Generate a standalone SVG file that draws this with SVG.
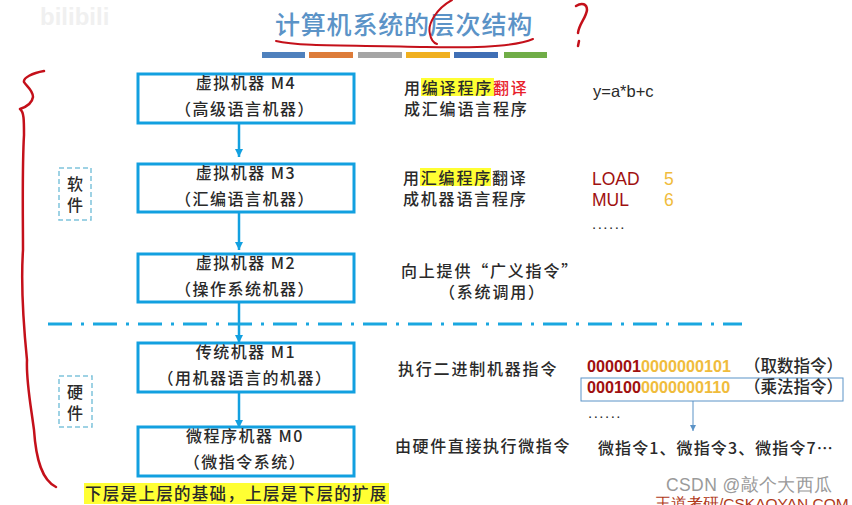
<svg xmlns="http://www.w3.org/2000/svg" width="852" height="505" viewBox="0 0 852 505">
<defs>
<marker id="ah" markerUnits="userSpaceOnUse" markerWidth="9" markerHeight="8" refX="8" refY="4" orient="auto"><path d="M0 0L8 4L0 8Z" fill="#12a0e0"/></marker>
<marker id="ah2" markerUnits="userSpaceOnUse" markerWidth="7" markerHeight="6" refX="6" refY="3" orient="auto"><path d="M0 0L6 3L0 6Z" fill="#5b93c7"/></marker>
</defs>
<style>
text{font-family:"Noto Sans CJK SC","Liberation Sans",sans-serif;fill:#2a2a2a}
.box{fill:#fff;stroke:#12a0e0;stroke-width:3}
.t{font-size:16px;text-anchor:middle;letter-spacing:1.5px;font-weight:500}
.s{font-size:16px;letter-spacing:1.8px;font-weight:500}
.k{font-size:16px;text-anchor:middle;font-weight:500}
.lat{font-family:"Liberation Sans",Arial,sans-serif}
.conn{fill:none;stroke:#12a0e0;stroke-width:2.5;marker-end:url(#ah)}
.dash{fill:none;stroke:#7fc4dc;stroke-width:1.5;stroke-dasharray:5 3}
.ink{fill:none;stroke:#c4101a;stroke-linecap:round;stroke-linejoin:round}
.bar{stroke:none}
.hl{fill:#ffff33}
</style>
<rect width="852" height="505" fill="#fff"/>
<text id="wm" x="40" y="25" class="lat" font-size="24" font-weight="700" style="fill:#f0f0f0">bilibili</text>

<g id="title">
<text x="275" y="34" font-size="25" font-weight="500" letter-spacing="0.8" style="fill:#5b93c7">计算机系统的层次结构</text>
<rect class="bar" x="262" y="52" width="43" height="6" fill="#4f81bd"/>
<rect class="bar" x="309" y="52" width="44" height="6" fill="#dd7c3a"/>
<rect class="bar" x="358" y="52" width="44" height="6" fill="#a5a5a5"/>
<rect class="bar" x="406" y="52" width="44" height="6" fill="#f0b020"/>
<rect class="bar" x="454" y="52" width="44" height="6" fill="#3f6fb5"/>
<rect class="bar" x="504" y="52" width="43" height="6" fill="#70ad47"/>
</g>

<g id="connectors">
<path class="conn" d="M239 123V157"/>
<path class="conn" d="M239 212V250"/>
<path class="conn" d="M239 302V343"/>
<path class="conn" d="M239 392V428"/>
<path d="M693 401V431" fill="none" stroke="#5b93c7" stroke-width="1" marker-end="url(#ah2)"/>
<path id="divider" d="M48 324H742" fill="none" stroke="#1aa7e0" stroke-width="3" stroke-dasharray="24 9 3 9"/>
</g>

<g id="m4"><rect class="box" x="138" y="74" width="216" height="49"/><text class="t" x="246" y="89">虚拟机器 M4</text><text class="t" x="245" y="115">（高级语言机器）</text></g>
<g id="m3"><rect class="box" x="138" y="164" width="216" height="48"/><text class="t" x="246" y="179">虚拟机器 M3</text><text class="t" x="245" y="205">（汇编语言机器）</text></g>
<g id="m2"><rect class="box" x="138" y="254" width="216" height="48"/><text class="t" x="246" y="269">虚拟机器 M2</text><text class="t" x="245" y="295">（操作系统机器）</text></g>
<g id="m1"><rect class="box" x="138" y="343" width="216" height="49"/><text class="t" x="246" y="358">传统机器 M1</text><text class="t" x="245" y="384">（用机器语言的机器）</text></g>
<g id="m0"><rect class="box" x="138" y="427" width="216" height="49"/><text class="t" x="245" y="442">微程序机器 M0</text><text class="t" x="245" y="468">（微指令系统）</text></g>

<g id="software"><rect class="dash" x="59" y="168" width="32" height="52"/><text class="k" x="75" y="190">软</text><text class="k" x="75" y="211">件</text></g>
<g id="hardware"><rect class="dash" x="59" y="376" width="33" height="51"/><text class="k" x="75" y="398">硬</text><text class="k" x="75" y="419">件</text></g>

<g id="desc4"><rect class="hl" x="421" y="78" width="73" height="18"/><text class="s" x="404" y="94">用编译程序<tspan style="fill:#e8202a">翻译</tspan></text><text class="s" x="404" y="115">成汇编语言程序</text></g>
<g id="desc3"><rect class="hl" x="420" y="168" width="71" height="18"/><text class="s" x="403" y="184">用汇编程序翻译</text><text class="s" x="403" y="205">成机器语言程序</text></g>
<g id="desc2"><text class="s" x="401" y="277">向上提供“广义指令”</text><text class="s" x="439" y="298">（系统调用）</text></g>
<g id="desc1"><text class="s" x="398" y="375">执行二进制机器指令</text></g>
<g id="desc0"><text class="s" x="395" y="452" style="letter-spacing:1.6px">由硬件直接执行微指令</text></g>

<g id="ex4"><text class="lat" x="593" y="97" font-size="16.5">y=a*b+c</text></g>
<g id="ex3">
<text class="lat" x="592" y="185" font-size="17.5" style="fill:#a01010">LOAD</text><text class="lat" x="664" y="185" font-size="17.5" style="fill:#f0bc3c">5</text>
<text class="lat" x="592" y="206" font-size="17.5" style="fill:#a01010">MUL</text><text class="lat" x="664" y="206" font-size="17.5" style="fill:#f0bc3c">6</text>
<text class="lat" x="592" y="229" font-size="15" letter-spacing="1.5">......</text>
</g>
<g id="ex1">
<rect x="581" y="378" width="262" height="23" fill="none" stroke="#5b93c7" stroke-width="1"/>
<text class="lat" x="587" y="372" font-size="16.2" font-weight="700"><tspan style="fill:#a01010">000001</tspan><tspan style="fill:#f0bc3c">0000000101</tspan></text>
<text x="744" y="372" font-size="16.5" font-weight="500">（取数指令）</text>
<text class="lat" x="587" y="393" font-size="16.2" font-weight="700"><tspan style="fill:#a01010">000100</tspan><tspan style="fill:#f0bc3c">0000000110</tspan></text>
<text x="744" y="393" font-size="16.5" font-weight="500">（乘法指令）</text>
<text class="lat" x="588" y="418" font-size="15" letter-spacing="1.5">......</text>
</g>
<g id="ex0"><text x="598" y="454" font-size="16" font-weight="500" letter-spacing="1.1">微指令1、微指令3、微指令7…</text></g>

<g id="note"><rect class="hl" x="84" y="483" width="305" height="21"/><text x="85" y="500" font-size="16.5" font-weight="500" letter-spacing="1.3">下层是上层的基础，上层是下层的扩展</text></g>

<g id="ink">
<path class="ink" stroke-width="2" d="M276 41C300 47 360 45 426 47C470 48 515 47 533 39"/>
<path class="ink" stroke-width="2" d="M452 0C437 8 427 24 430 34C431 40 434 43 437 44"/>
<path class="ink" stroke-width="2.5" d="M576 6C582 2 587 4 587 10C586 18 579 24 578 33M579 41L578 46"/>
<path class="ink" stroke-width="2.5" d="M44 71C32 73 23 78 24 82C26 86 33 90 33 97C32 104 26 107 20 109C24 112 24 120 24 135C22 170 23 220 23 250C21 280 23 320 27 360C26 380 30 400 34 430C36 460 42 480 56 487"/>
</g>

<text id="csdn" x="666" y="491" class="lat" font-size="17.5" letter-spacing="0.4" style="fill:#9a9a9a">CSDN @敲个大西瓜</text>
<text id="brand" x="655" y="509" class="lat" font-size="15.5" style="fill:#b03a1a">王道考研/CSKAOYAN.COM</text>
</svg>
